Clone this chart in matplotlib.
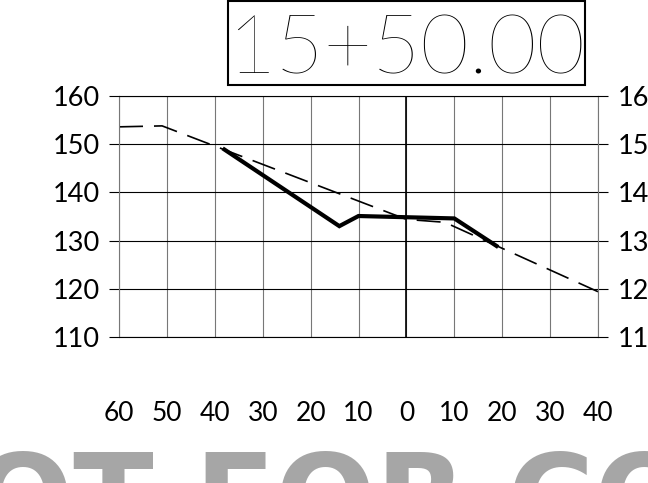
import matplotlib.pyplot as plt
from matplotlib.patches import Rectangle

station = "15+50.00"
ground_x = [-60, -51, 0, 8, 40]
ground_y = [153.6, 153.8, 134.4, 133.8, 119.4]
design_x = [-38, -14, -10, 10, 18.8]
design_y = [148.9, 133.0, 135.1, 134.6, 128.9]
x_ticks = [-60, -50, -40, -30, -20, -10, 0, 10, 20, 30, 40]
x_labels = ["60", "50", "40", "30", "20", "10", "0", "10", "20", "30", "40"]
y_ticks = [110, 120, 130, 140, 150, 160]
y_labels = ["110", "120", "130", "140", "150", "160"]

plt.rcParams['font.family'] = ['Lato', 'DejaVu Sans']

fig = plt.figure(figsize=(6.48, 4.83), dpi=100)
ax = fig.add_axes([119 / 648, 146 / 483, 479 / 648, 241 / 483])

ax.plot(ground_x, ground_y, color='black', lw=1.2, dashes=(14.4, 6.6))
ax.plot(design_x, design_y, color='black', lw=3.0, solid_joinstyle='miter')
ax.axvline(0, color='black', lw=1.2)

ax.set_xlim(-60, 40)
ax.set_ylim(110, 160)
ax.set_xticks(x_ticks)
ax.set_xticklabels(x_labels)
ax.set_yticks(y_ticks)
ax.set_yticklabels(y_labels)
ax.tick_params(axis='x', length=0, pad=46, labelsize=19)
ax.tick_params(axis='y', direction='out', length=7.5, width=0.8, pad=6.5,
               labelsize=19.5, left=True, right=True, labelleft=True, labelright=True)

ax.xaxis.grid(True, color='#777777', lw=0.8)
ax.yaxis.grid(True, color='black', lw=0.8)
ax.set_axisbelow(True)
for side in ['left', 'right']:
    ax.spines[side].set_color('#777777')
    ax.spines[side].set_linewidth(0.8)
for side in ['top', 'bottom']:
    ax.spines[side].set_color('black')
    ax.spines[side].set_linewidth(0.8)

# station title in a box
fig.patches.append(Rectangle((228 / 648, 398 / 483), 357 / 648, 84 / 483,
                             transform=fig.transFigure, fill=False,
                             edgecolor='black', lw=1.5))
fig.text(406.5 / 648, 409 / 483, station, ha='center', va='baseline',
         fontsize=60, fontweight='light')

# watermark across the bottom
fig.text(-126 / 648, -55 / 483, "NOT FOR CONSTRUCTION", ha='left', va='baseline',
         fontsize=85, fontweight='bold', color='#a6a6a6', family='DejaVu Sans')

fig.savefig("out.png", dpi=100)
